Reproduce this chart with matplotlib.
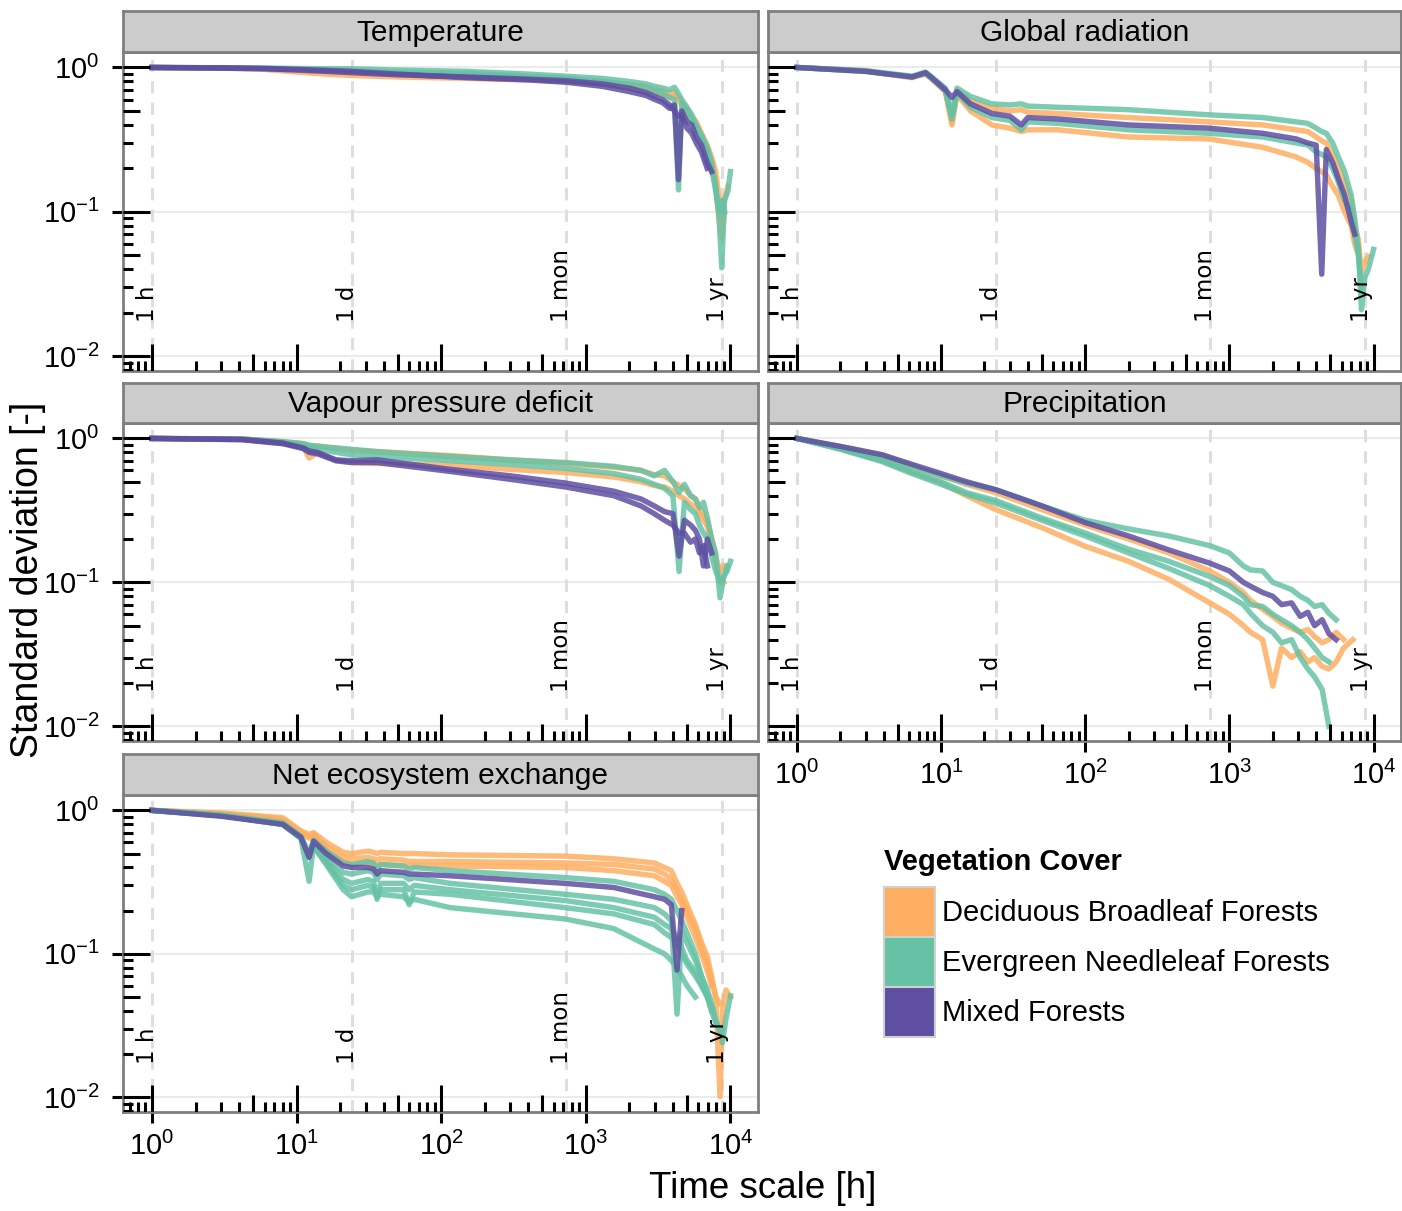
import matplotlib

matplotlib.use("Agg")

import matplotlib.pyplot as plt
import numpy as np
from matplotlib.patches import Patch

nan = np.nan

# ---- data (time scale in hours, normalised standard deviation) ----
CLASS_NAMES = ["Deciduous Broadleaf Forests", "Evergreen Needleleaf Forests", "Mixed Forests"]
CLASS_COLORS = ["#FDAE61", "#66C2A5", "#5E4FA2"]

MARK_HOURS = [1, 24, 730, 8760]
MARK_LABELS = ["1 h", "1 d", "1 mon", "1 yr"]

temp_x = [1, 3, 6, 10, 16, 24, 50, 150, 400, 730, 1300, 2000, 2600, 3000, 3400,
          3800, 4100, 4370, 4600, 5000, 5400, 5800, 6300, 6900, 7400, 7900, 8300,
          8700, 9100, 9600, 10000]
temp_dbf = [
    [1, 0.99, 0.97, 0.93, 0.9, 0.88, 0.86, 0.84, 0.82, 0.8, 0.77, 0.73, 0.7, 0.67, 0.66,
     0.62, 0.64, 0.6, 0.55, 0.5, 0.43, 0.4, 0.33, 0.27, 0.23, 0.16, 0.09, 0.066, 0.1, nan, nan],
    [1, 0.995, 0.98, 0.96, 0.94, 0.92, 0.9, 0.88, 0.86, 0.84, 0.8, 0.76, 0.74, 0.7, 0.69,
     0.66, 0.67, 0.62, 0.57, 0.52, 0.46, 0.42, 0.35, 0.29, 0.24, 0.19, 0.13, 0.09, 0.12, 0.15, nan],
]
temp_enf = [
    [1, 0.995, 0.99, 0.985, 0.98, 0.98, 0.96, 0.94, 0.9, 0.87, 0.84, 0.8, 0.77, 0.74, 0.72,
     0.7, 0.73, 0.66, 0.6, 0.53, 0.47, 0.4, 0.34, 0.28, 0.22, 0.15, 0.098, 0.041, 0.12, 0.14, 0.19],
    [1, 0.99, 0.985, 0.975, 0.96, 0.95, 0.93, 0.91, 0.87, 0.84, 0.8, 0.76, 0.72, 0.69, 0.66,
     0.62, 0.6, 0.142, 0.56, 0.49, 0.43, 0.37, 0.32, 0.26, 0.2, 0.14, 0.1, 0.12, 0.1, nan, nan],
]
temp_mf = [
    [1, 0.995, 0.985, 0.97, 0.955, 0.94, 0.9, 0.85, 0.82, 0.79, 0.74, 0.68, 0.64, 0.6, 0.57,
     0.52, 0.55, 0.167, 0.5, 0.42, 0.4, 0.33, 0.29, 0.22, 0.19, nan, nan, nan, nan, nan, nan],
    [1, 0.99, 0.98, 0.96, 0.94, 0.92, 0.89, 0.86, 0.83, 0.81, 0.77, 0.72, 0.67, 0.63, 0.6,
     0.55, 0.5, 0.46, 0.47, 0.38, 0.35, 0.3, 0.26, 0.2, nan, nan, nan, nan, nan, nan, nan],
]

grad_x = [1, 3, 6.3, 7.8, 8.6, 10.7, 11.9, 12.9, 16, 22.5, 30, 36, 40, 65, 200, 720,
          1700, 2900, 3500, 4000, 4370, 4700, 5200, 5700, 6300, 7000, 7400, 7850, 8240,
          8700, 9200, 10000]
grad_dbf = [
    [1, 0.95, 0.86, 0.92, 0.85, 0.7, 0.42, 0.69, 0.59, 0.52, 0.5, 0.51, 0.49, 0.48, 0.45,
     0.42, 0.4, 0.37, 0.36, 0.33, 0.31, 0.3, 0.25, 0.2, 0.16, 0.12, 0.08, 0.064, 0.038, 0.045,
     0.049, nan],
    [1, 0.94, 0.85, 0.9, 0.83, 0.68, 0.4, 0.65, 0.5, 0.4, 0.38, 0.36, 0.37, 0.37, 0.33,
     0.32, 0.28, 0.24, 0.22, 0.2, 0.19, 0.18, 0.15, 0.13, 0.1, 0.08, 0.06, 0.05, nan, nan,
     nan, nan],
]
grad_enf = [
    [1, 0.95, 0.87, 0.93, 0.86, 0.72, 0.47, 0.72, 0.63, 0.56, 0.55, 0.56, 0.54, 0.53, 0.51,
     0.47, 0.45, 0.42, 0.41, 0.38, 0.36, 0.35, 0.3, 0.24, 0.19, 0.13, 0.09, 0.055, 0.021, 0.035,
     0.04, 0.055],
    [1, 0.94, 0.86, 0.91, 0.84, 0.69, 0.44, 0.67, 0.53, 0.45, 0.43, 0.37, 0.42, 0.41, 0.37,
     0.35, 0.33, 0.3, 0.29, 0.26, 0.25, 0.24, 0.2, 0.16, 0.12, 0.1, 0.07, 0.05, 0.03, nan,
     nan, nan],
]
grad_mf = [
    [1, 0.94, 0.86, 0.92, 0.85, 0.7, 0.62, 0.68, 0.56, 0.48, 0.46, 0.4, 0.45, 0.44, 0.4,
     0.38, 0.35, 0.32, 0.3, 0.29, 0.037, 0.27, 0.22, 0.17, 0.13, 0.085, 0.07, nan, nan, nan,
     nan, nan],
]

vpd_x = [1, 4.2, 8, 11.1, 12.2, 14, 18.7, 24, 36, 115, 300, 720, 1560, 2400, 2970, 3500,
         4000, 4410, 4800, 5300, 5720, 6100, 6500, 6930, 7420, 7900, 8470, 9000, 9500, 10000]
vpd_dbf = [
    [1, 0.98, 0.92, 0.88, 0.73, 0.8, 0.7, 0.68, 0.67, 0.65, 0.61, 0.58, 0.54, 0.5, 0.47,
     0.46, 0.43, 0.4, 0.38, 0.35, 0.33, 0.3, 0.27, 0.245, 0.18, 0.14, 0.11, 0.1, nan, nan],
    [1, 0.99, 0.95, 0.92, 0.88, 0.89, 0.85, 0.83, 0.81, 0.76, 0.71, 0.67, 0.63, 0.6, 0.56,
     0.55, 0.5, 0.47, 0.45, 0.4, 0.38, 0.33, 0.3, 0.26, 0.2, 0.15, 0.12, 0.13, nan, nan],
]
vpd_enf = [
    [1, 0.99, 0.95, 0.92, 0.9, 0.88, 0.86, 0.84, 0.81, 0.75, 0.71, 0.68, 0.64, 0.6, 0.55,
     0.6, 0.5, 0.42, 0.48, 0.4, 0.38, 0.33, 0.36, 0.28, 0.2, 0.16, 0.078, 0.11, 0.12, 0.14],
    [1, 0.99, 0.94, 0.9, 0.88, 0.85, 0.8, 0.77, 0.75, 0.7, 0.66, 0.62, 0.57, 0.52, 0.48,
     0.45, 0.4, 0.119, 0.36, 0.32, 0.3, 0.25, 0.22, 0.2, 0.15, 0.12, 0.1, 0.11, 0.13, nan],
]
vpd_mf = [
    [1, 0.985, 0.93, 0.86, 0.82, 0.8, 0.71, 0.7, 0.71, 0.61, 0.55, 0.49, 0.43, 0.38, 0.34,
     0.31, 0.3, 0.152, 0.27, 0.25, 0.23, 0.2, 0.13, 0.2, 0.16, nan, nan, nan, nan, nan],
    [1, 0.98, 0.92, 0.85, 0.8, 0.78, 0.7, 0.68, 0.68, 0.59, 0.52, 0.46, 0.4, 0.34, 0.3,
     0.27, 0.25, 0.22, 0.22, 0.19, 0.2, 0.16, 0.18, 0.13, nan, nan, nan, nan, nan, nan],
]

prec_x = [1, 2, 3.9, 6, 10, 15, 24, 50, 100, 200, 380, 730, 1000, 1250, 1400, 1700,
          2000, 2300, 2700, 3100, 3500, 3900, 4400, 4900, 5500, 6200, 7200]
prec_dbf = [
    [1, 0.85, 0.7, 0.59, 0.49, 0.4, 0.32, 0.24, 0.178, 0.14, 0.105, 0.072, 0.06, 0.05, 0.045,
     0.04, 0.019, 0.035, 0.03, 0.033, 0.028, 0.03, 0.026, 0.025, 0.028, 0.035, 0.04],
    [1, 0.88, 0.77, 0.66, 0.55, 0.48, 0.42, 0.32, 0.25, 0.2, 0.16, 0.12, 0.1, 0.085, 0.075,
     0.065, 0.058, 0.052, 0.048, 0.045, 0.047, 0.042, 0.038, 0.04, 0.045, 0.04, nan],
]
prec_enf = [
    [1, 0.87, 0.75, 0.65, 0.55, 0.49, 0.44, 0.34, 0.27, 0.235, 0.21, 0.18, 0.16, 0.13, 0.122,
     0.12, 0.1, 0.095, 0.089, 0.08, 0.075, 0.068, 0.07, 0.061, 0.055, nan, nan],
    [1, 0.85, 0.7, 0.6, 0.5, 0.42, 0.37, 0.28, 0.22, 0.17, 0.14, 0.11, 0.095, 0.08, 0.07,
     0.068, 0.06, 0.055, 0.05, 0.045, 0.04, 0.035, 0.03, 0.028, nan, nan, nan],
    [1, 0.84, 0.69, 0.58, 0.48, 0.41, 0.355, 0.27, 0.21, 0.16, 0.125, 0.095, 0.08, 0.07, 0.061,
     0.05, 0.045, 0.038, 0.04, 0.03, 0.025, 0.022, 0.018, 0.01, nan, nan, nan],
]
prec_mf = [
    [1, 0.88, 0.77, 0.67, 0.57, 0.5, 0.44, 0.34, 0.26, 0.21, 0.168, 0.136, 0.12, 0.1, 0.094,
     0.085, 0.08, 0.07, 0.072, 0.058, 0.062, 0.05, 0.055, 0.044, 0.04, nan, nan],
]

nee_x = [1, 3, 8, 10.7, 12.2, 13.1, 16, 21, 24, 31, 34, 36, 38, 55, 60, 65, 115, 720,
         1560, 2980, 3500, 3900, 4270, 4600, 5000, 5720, 6300, 6930, 7400, 7900, 8470,
         8800, 9300, 10000]
nee_dbf = [
    [1, 0.96, 0.89, 0.72, 0.68, 0.7, 0.6, 0.51, 0.5, 0.52, 0.51, 0.5, 0.51, 0.5, 0.5,
     0.5, 0.49, 0.48, 0.46, 0.43, 0.4, 0.38, 0.31, 0.27, 0.22, 0.16, 0.12, 0.095, 0.07,
     0.05, 0.0101, 0.04, 0.056, 0.05],
    [1, 0.95, 0.87, 0.7, 0.66, 0.68, 0.56, 0.47, 0.46, 0.47, 0.46, 0.45, 0.46, 0.45, 0.44,
     0.44, 0.44, 0.43, 0.42, 0.39, 0.36, 0.33, 0.28, 0.24, 0.2, 0.15, 0.11, 0.085, 0.065,
     0.05, 0.045, nan, nan, nan],
    [1, 0.95, 0.86, 0.69, 0.64, 0.66, 0.53, 0.44, 0.42, 0.43, 0.42, 0.41, 0.42, 0.41, 0.41,
     0.41, 0.41, 0.4, 0.38, 0.35, 0.32, 0.3, 0.25, 0.22, 0.18, 0.13, 0.1, 0.075, 0.06,
     nan, nan, nan, nan, nan],
]
nee_enf = [
    [1, 0.93, 0.82, 0.66, 0.5, 0.62, 0.52, 0.43, 0.42, 0.44, 0.43, 0.39, 0.42, 0.41, 0.39,
     0.4, 0.38, 0.34, 0.32, 0.28, 0.26, 0.24, 0.2, 0.17, 0.14, 0.1, 0.07, 0.05, 0.04,
     0.033, 0.03, 0.024, 0.035, 0.051],
    [1, 0.92, 0.8, 0.64, 0.32, 0.58, 0.47, 0.37, 0.36, 0.38, 0.37, 0.33, 0.36, 0.35, 0.33,
     0.34, 0.31, 0.26, 0.24, 0.21, 0.19, 0.17, 0.038, 0.14, 0.12, 0.09, 0.07, 0.056, 0.045,
     0.035, 0.028, 0.03, nan, nan],
    [1, 0.92, 0.8, 0.64, 0.48, 0.57, 0.45, 0.33, 0.31, 0.33, 0.32, 0.24, 0.31, 0.31, 0.28,
     0.3, 0.28, 0.235, 0.21, 0.18, 0.16, 0.15, 0.13, 0.11, 0.09, 0.075, 0.06, 0.05, 0.04,
     nan, nan, nan, nan, nan],
    [1, 0.92, 0.8, 0.64, 0.48, 0.56, 0.43, 0.3, 0.28, 0.3, 0.29, 0.26, 0.28, 0.28, 0.22,
     0.27, 0.26, 0.21, 0.19, 0.16, 0.14, 0.13, 0.12, 0.1, 0.085, 0.07, 0.06, 0.05,
     nan, nan, nan, nan, nan, nan],
    [1, 0.92, 0.8, 0.64, 0.48, 0.56, 0.42, 0.28, 0.25, 0.27, 0.27, 0.25, 0.26, 0.25, 0.23,
     0.24, 0.21, 0.175, 0.15, 0.108, 0.1, 0.09, 0.08, 0.07, 0.06, 0.05,
     nan, nan, nan, nan, nan, nan, nan, nan],
]
nee_mf = [
    [1, 0.91, 0.8, 0.65, 0.47, 0.61, 0.5, 0.41, 0.4, 0.4, 0.39, 0.36, 0.38, 0.37, 0.36,
     0.36, 0.35, 0.31, 0.29, 0.25, 0.24, 0.22, 0.077, 0.2,
     nan, nan, nan, nan, nan, nan, nan, nan, nan, nan],
]

# ---- layout (pixels of the 1402 x 1211 canvas) ----
W, H = 1402, 1211
XLIM = (0.63, 15500)
YLIM = (0.0079, 1.28)

plt.rcParams["font.family"] = ["Liberation Sans", "DejaVu Sans"]
plt.rcParams["mathtext.fontset"] = "custom"
plt.rcParams["mathtext.rm"] = "Liberation Sans"
plt.rcParams["mathtext.default"] = "regular"


def px_axes(fig, x0, y0, x1, y1):
    return fig.add_axes([x0 / W, 1 - y1 / H, (x1 - x0) / W, (y1 - y0) / H])


def add_strip(fig, x0, y0, x1, y1, title):
    sax = px_axes(fig, x0, y0, x1, y1)
    sax.set_facecolor("#cccccc")
    sax.set_xticks([])
    sax.set_yticks([])
    for spine in sax.spines.values():
        spine.set_color("#7f7f7f")
        spine.set_linewidth(2)
    sax.text(0.5, 0.47, title, ha="center", va="center", fontsize=21.5, transform=sax.transAxes)


def log_ticks(ax):
    # annotation_logticks style: long at decades, mid at 5, short elsewhere
    xt = ax.get_xaxis_transform()
    yt = ax.get_yaxis_transform()
    for d in range(-1, 5):
        for k in range(1, 10):
            v = k * 10.0 ** d
            if XLIM[0] <= v <= XLIM[1]:
                L = 0.085 if k == 1 else (0.053 if k == 5 else 0.031)
                ax.plot([v, v], [0, L], transform=xt, color="black", lw=2.2,
                        solid_capstyle="butt", zorder=6)
    for d in range(-3, 1):
        for k in range(1, 10):
            v = k * 10.0 ** d
            if YLIM[0] <= v <= YLIM[1]:
                L = 0.0425 if k == 1 else (0.027 if k == 5 else 0.016)
                ax.plot([0, L], [v, v], transform=yt, color="black", lw=2.2,
                        solid_capstyle="butt", zorder=6)


def draw_panel(fig, rect, strip, title, x, groups, show_x, show_y):
    ax = px_axes(fig, *rect)
    add_strip(fig, rect[0], strip, rect[2], rect[1], title)
    ax.set_xscale("log")
    ax.set_yscale("log")
    ax.set_xlim(*XLIM)
    ax.set_ylim(*YLIM)

    for yv in [1e-2, 1e-1, 1e0]:
        ax.axhline(yv, color="#ebebeb", lw=1.5, zorder=0)
    for h in MARK_HOURS:
        ax.axvline(h, color="#dedede", lw=2.2, ls=(0, (4, 3)), zorder=1)

    for color, series in zip(CLASS_COLORS, groups):
        for y in series:
            ax.plot(x, y, color=color, lw=3.9, alpha=0.85, zorder=3)

    for h, lab in zip(MARK_HOURS, MARK_LABELS):
        ax.annotate(lab, xy=(h, 0.0172), xytext=(-3, 0), textcoords="offset points",
                    rotation=90, ha="center", va="bottom", fontsize=16.5,
                    family="DejaVu Sans", zorder=4)

    log_ticks(ax)

    for spine in ax.spines.values():
        spine.set_color("#7f7f7f")
        spine.set_linewidth(2)
    ax.minorticks_off()
    ax.set_xticks([1, 10, 100, 1000, 10000])
    ax.set_yticks([1e-2, 1e-1, 1e0])
    if show_x:
        ax.set_xticklabels([r"$10^{0}$", r"$10^{1}$", r"$10^{2}$", r"$10^{3}$", r"$10^{4}$"])
        ax.tick_params(axis="x", length=8, width=2.2, color="black", labelsize=21, pad=6)
    else:
        ax.tick_params(axis="x", length=0, labelbottom=False)
    if show_y:
        ax.set_yticklabels([r"$10^{-2}$", r"$10^{-1}$", r"$10^{0}$"])
        ax.tick_params(axis="y", length=8, width=2.2, color="black", labelsize=21, pad=9)
    else:
        ax.tick_params(axis="y", length=0, labelleft=False)
    return ax


fig = plt.figure(figsize=(W / 100, H / 100), dpi=100)

LEFT = (123, 758)
RIGHT = (768, 1401)

draw_panel(fig, (LEFT[0], 52, LEFT[1], 371), 11, "Temperature",
           temp_x, [temp_dbf, temp_enf, temp_mf], False, True)
draw_panel(fig, (RIGHT[0], 52, RIGHT[1], 371), 11, "Global radiation",
           grad_x, [grad_dbf, grad_enf, grad_mf], False, False)
draw_panel(fig, (LEFT[0], 423, LEFT[1], 741), 383, "Vapour pressure deficit",
           vpd_x, [vpd_dbf, vpd_enf, vpd_mf], False, True)
draw_panel(fig, (RIGHT[0], 423, RIGHT[1], 741), 383, "Precipitation",
           prec_x, [prec_dbf, prec_enf, prec_mf], True, False)
draw_panel(fig, (LEFT[0], 795, LEFT[1], 1112), 754, "Net ecosystem exchange",
           nee_x, [nee_dbf, nee_enf, nee_mf], True, True)

fig.text(28 / W, 1 - 580 / H, "Standard deviation [-]", rotation=90,
         ha="center", va="center", fontsize=27)
fig.text(763 / W, 1 - 1188 / H, "Time scale [h]", ha="center", va="center", fontsize=26.5)

fig.text(884 / W, 1 - 862 / H, "Vegetation Cover", ha="left", va="center",
         fontsize=21, fontweight="bold")
handles = [Patch(facecolor=c, edgecolor="#d0d0d0", linewidth=1.5) for c in CLASS_COLORS]
fig.legend(handles, CLASS_NAMES, loc="upper left", bbox_to_anchor=(884 / W, 1 - 887 / H),
           frameon=False, fontsize=21,
           handlelength=1.75, handleheight=2.26, labelspacing=0.0, handletextpad=0.25,
           borderpad=0, borderaxespad=0)

fig.savefig("out.png", dpi=100)
